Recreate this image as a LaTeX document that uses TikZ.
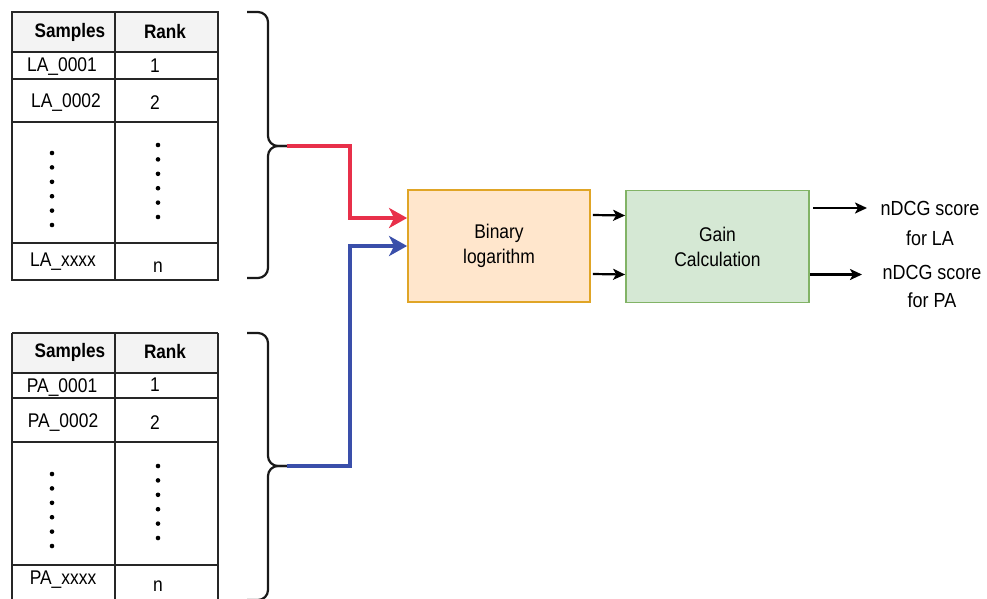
\documentclass[tikz,border=0pt]{standalone}
\usepackage{fontspec}
\setmainfont{Liberation Sans}[FakeStretch=0.88]
\usetikzlibrary{arrows.meta}
\definecolor{hdrgray}{HTML}{F3F3F3}
\definecolor{peachfill}{HTML}{FFE6CC}
\definecolor{peachdraw}{HTML}{E0A526}
\definecolor{greenfill}{HTML}{D5E8D4}
\definecolor{greendraw}{HTML}{82B366}
\definecolor{linkred}{HTML}{E8304A}
\definecolor{linkblue}{HTML}{3A4FAA}
\tikzset{
  txt/.style={inner sep=0pt, font=\fontsize{19.8}{25}\selectfont},
  hdr/.style={txt, font=\fontsize{19.5}{25}\selectfont\bfseries},
  grid/.style={line width=1.8pt, black!85},
  bracepath/.style={line width=2.2pt, rounded corners=10pt, black!90},
  dotmark/.style={fill=black, draw=none},
  procbox/.style={minimum height=112pt, line width=1.8pt, txt, align=center},
  link/.style={line width=3.4pt, -{Stealth[length=18pt,width=20pt,inset=5pt]}},
  outarrow/.style={line width=2.2pt, -{Stealth[length=12pt,width=11pt,inset=3pt]}}
}
\begin{document}
\begin{tikzpicture}[x=1pt,y=-1pt]
\useasboundingbox (0,0) rectangle (987,598);
\begin{scope}
\clip (0,0) rectangle (987,598);

% ---- LA table ----
\fill[hdrgray] (12,12) rectangle (218,52);
\draw[grid] (12,12) rectangle (218,280);
\draw[grid] (115,12) -- (115,280);
\foreach \yy in {52,79,122,243} \draw[grid] (12,\yy) -- (218,\yy);
\node[hdr] (laHs) at (70,32) {Samples};
\node[hdr] (laHr) at (165,32) {Rank};
\node[txt] (laS1) at (62,67) {LA\_0001};
\node[txt] (laR1) at (155,66) {1};
\node[txt] (laS2) at (66,103) {LA\_0002};
\node[txt] (laR2) at (155,103) {2};
\node[txt] (laSn) at (63,262) {LA\_xxxx};
\node[txt] (laRn) at (158,267) {n};
\foreach \k in {0,...,5} {
  \fill[dotmark] (52,153+14.4*\k) circle (2.3pt);
  \fill[dotmark] (158,145+14.4*\k) circle (2.3pt);
}

% ---- PA table ----
\fill[hdrgray] (12,333) rectangle (218,373);
\draw[grid] (12,333) -- (218,333);
\draw[grid] (12,333) -- (12,610);
\draw[grid] (218,333) -- (218,610);
\draw[grid] (115,333) -- (115,610);
\foreach \yy in {373,398,442,565} \draw[grid] (12,\yy) -- (218,\yy);
\node[hdr] (paHs) at (70,352) {Samples};
\node[hdr] (paHr) at (165,352) {Rank};
\node[txt] (paS1) at (62,388) {PA\_0001};
\node[txt] (paR1) at (155,385) {1};
\node[txt] (paS2) at (63,423) {PA\_0002};
\node[txt] (paR2) at (155,423) {2};
\node[txt] (paSn) at (63,580) {PA\_xxxx};
\node[txt] (paRn) at (158,586) {n};
\foreach \k in {0,...,5} {
  \fill[dotmark] (52,474+14.4*\k) circle (2.3pt);
  \fill[dotmark] (158,466+14.4*\k) circle (2.3pt);
}

% ---- braces ----
\coordinate (tipLA) at (287,146);
\coordinate (tipPA) at (287,466);
\draw[bracepath] (247,12) -| (268,146) -- (tipLA);
\draw[bracepath] (247,278) -| (268,146) -- (tipLA);
\draw[bracepath] (247,333) -| (268,466) -- (tipPA);
\draw[bracepath] (247,600) -| (268,466) -- (tipPA);
\end{scope}

% ---- processing boxes ----
\node[procbox, draw=peachdraw, fill=peachfill, minimum width=182pt] (bin) at (499,246) {Binary\\logarithm};
\node[procbox, draw=greendraw, fill=greenfill, minimum width=183pt] (gain) at (717.5,246.5) {Gain\\Calculation};

% ---- inputs ----
\draw[link, linkred] (tipLA) -- (350,146) |- ([yshift=28pt]bin.west);
\draw[link, linkblue] (tipPA) -- (350,466) |- (bin.west);

% ---- between boxes ----
\draw[outarrow] ([yshift=31pt,xshift=2pt]bin.east) -- ([yshift=31pt]gain.west);
\draw[outarrow] ([yshift=-28pt,xshift=2pt]bin.east) -- ([yshift=-28pt]gain.west);

% ---- outputs ----
\node[txt, align=center, font=\fontsize{20.4}{30}\selectfont] (outLA) at (930,223) {nDCG score\\for LA};
\node[txt, align=center, font=\fontsize{20.4}{28}\selectfont] (outPA) at (932,286) {nDCG score\\for PA};
\draw[outarrow] (813,208) -- (867,208);
\draw[outarrow] ([yshift=-28pt]gain.east) -- (862,274.5);
\end{tikzpicture}
\end{document}
